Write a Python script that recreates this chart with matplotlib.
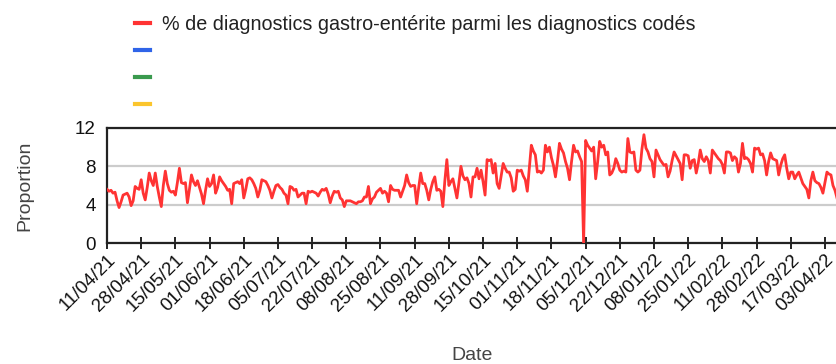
import matplotlib
matplotlib.use("Agg")
import matplotlib.pyplot as plt
from matplotlib.lines import Line2D
import pandas as pd

plt.rcParams['font.family'] = ['Liberation Sans', 'DejaVu Sans']

start_date = "2021-04-11"
series_label = "% de diagnostics gastro-entérite parmi les diagnostics codés"
proportion = [
    5.6, 5.4, 5.5, 5.2, 5.3, 4.4, 3.7,
    4.3, 5.0, 5.1, 5.2, 4.8, 3.9, 4.4,
    5.9, 5.7, 5.6, 6.6, 5.2, 4.5, 5.8,
    7.3, 6.5, 6.0, 7.3, 5.9, 4.8, 3.8,
    6.0, 7.5, 6.2, 5.5, 5.3, 5.4, 5.0,
    6.3, 7.8, 6.3, 6.2, 6.3, 4.2, 5.6,
    7.1, 6.4, 6.0, 6.5, 5.8, 5.1, 4.1,
    5.5, 6.7, 5.9, 6.2, 7.1, 5.2, 5.8,
    6.9, 6.5, 6.2, 5.9, 5.5, 5.6, 4.1,
    6.2, 6.3, 6.4, 6.2, 6.6, 4.7, 5.6,
    6.7, 6.8, 6.6, 6.2, 5.7, 4.8, 5.5,
    6.6, 6.5, 6.4, 6.0, 5.5, 4.7, 5.4,
    6.0, 6.1, 5.8, 5.6, 5.2, 5.0, 4.1,
    5.9, 5.8, 5.5, 5.6, 4.8, 5.0, 5.2,
    5.2, 4.1, 5.4, 5.3, 5.4, 5.3, 5.2,
    4.9, 5.3, 5.6, 5.5, 5.7, 5.1, 4.2,
    4.9, 5.4, 5.3, 5.4, 4.7, 4.5, 3.8,
    4.4, 4.4, 4.4, 4.3, 4.2, 4.1, 4.3,
    4.3, 4.4, 4.8, 4.8, 5.9, 4.1, 4.6,
    4.8, 5.3, 5.5, 5.7, 5.2, 5.4, 5.2,
    4.3, 6.0, 5.6, 5.5, 5.5, 5.5, 4.8,
    5.4, 6.0, 7.1, 6.3, 5.9, 6.0, 6.0,
    4.1, 5.8, 7.3, 6.2, 6.2, 5.5, 4.5,
    5.6, 6.4, 6.9, 5.5, 5.6, 5.4, 3.8,
    6.5, 8.7, 6.0, 6.4, 6.7, 5.7, 4.7,
    6.3, 8.0, 7.0, 6.6, 6.8, 6.2, 4.8,
    6.9, 6.9, 7.8, 6.7, 7.6, 6.4, 5.0,
    8.7, 8.6, 8.7, 7.3, 8.3, 6.2, 5.7,
    7.0, 8.3, 7.8, 7.4, 7.4, 6.8, 5.4,
    5.6, 7.6, 7.5, 7.6, 7.0, 6.6, 5.4,
    7.8, 10.2, 9.6, 9.2, 7.4, 7.5, 7.3,
    7.6, 10.2, 9.5, 10.0, 8.9, 8.1, 6.9,
    8.5, 10.4, 9.8, 9.4, 8.5, 7.8, 6.6,
    8.5, 10.2, 9.5, 9.6, 9.0, 8.5, 0.0,
    10.7, 10.2, 9.9, 9.6, 10.0, 6.7, 8.5,
    10.6, 10.0, 10.2, 9.2, 9.5, 7.1, 7.3,
    7.8, 8.8, 8.3, 7.6, 7.4, 7.5, 7.4,
    10.9, 9.5, 9.4, 9.5, 7.6, 7.4, 7.6,
    9.8, 11.3, 9.9, 9.5, 8.8, 8.5, 6.9,
    9.7, 9.2, 8.7, 8.4, 8.1, 8.2, 6.9,
    7.5, 8.6, 9.5, 9.1, 8.7, 8.3, 6.6,
    9.2, 9.2, 9.1, 7.8, 8.6, 8.7, 7.3,
    8.3, 9.7, 8.8, 8.5, 9.0, 8.6, 7.3,
    9.7, 9.4, 9.1, 8.8, 8.6, 8.2, 7.3,
    9.5, 9.5, 9.4, 8.6, 9.0, 8.8, 7.4,
    8.3, 10.4, 8.8, 8.9, 8.7, 8.3, 7.4,
    9.9, 9.8, 9.9, 9.2, 9.3, 8.6, 7.1,
    8.5, 9.4, 8.8, 8.7, 8.6, 7.1, 8.1,
    8.8, 9.2, 7.8, 6.7, 7.4, 7.4, 6.7,
    7.1, 7.4, 6.8, 6.2, 5.9, 5.6, 4.7,
    6.5, 7.4, 6.5, 6.3, 6.2, 5.8, 5.2,
    6.3, 7.4, 7.2, 7.1, 6.0, 5.5, 4.7,
]
tick_labels = ["11/04/21", "28/04/21", "15/05/21", "01/06/21", "18/06/21",
               "05/07/21", "22/07/21", "08/08/21", "25/08/21", "11/09/21",
               "28/09/21", "15/10/21", "01/11/21", "18/11/21", "05/12/21",
               "22/12/21", "08/01/22", "25/01/22", "11/02/22", "28/02/22",
               "17/03/22", "03/04/22"]
y_ticks = [0, 4, 8, 12]
legend_colors = ["#ff3333", "#2f64e8", "#3a9a4e", "#fbc52d"]
legend_labels = [series_label, "", "", ""]

dates = pd.date_range(start_date, periods=len(proportion), freq="D")
tick_dates = pd.to_datetime(tick_labels, format="%d/%m/%y")

fig = plt.figure(figsize=(8.37, 3.64), dpi=100)
ax = fig.add_axes([107 / 837, 1 - 243 / 364, 1 - 107 / 837, 115 / 364])

ax.plot(dates, proportion, color=legend_colors[0], lw=2.0, solid_joinstyle="round",
        zorder=3)

ax.set_xlim(dates[0], dates[-1])
ax.set_ylim(0, 12)
ax.set_yticks(y_ticks)
ax.set_yticklabels([str(v) for v in y_ticks])
ax.grid(axis="y", color="#cccccc", lw=1.6, zorder=0)
ax.set_axisbelow(True)

ax.set_xticks(tick_dates)
ax.set_xticklabels(tick_labels, rotation=45, ha="right", va="top",
                   rotation_mode="anchor")
ax.tick_params(axis="x", direction="inout", length=8, width=1.4, color="#222222",
               labelsize=13.5, labelcolor="#111111", pad=2)
ax.tick_params(axis="y", length=0, labelsize=13.5, labelcolor="#111111", pad=8)

for side in ("left", "top", "bottom"):
    ax.spines[side].set_color("#222222")
    ax.spines[side].set_linewidth(1.6)
ax.spines["right"].set_visible(False)

ax.set_ylabel("Proportion", fontsize=14, color="#444444", labelpad=30)
ax.set_xlabel("Date", fontsize=14, color="#444444", labelpad=23)

handles = [Line2D([], [], color=c, lw=3) for c in legend_colors]
fig.legend(handles, legend_labels, loc="upper left", bbox_to_anchor=(127 / 837, 1 - 7 / 364),
           frameon=False, fontsize=14.2, handlelength=0.75, handletextpad=0.62,
           labelspacing=0.41, labelcolor="#222222", borderaxespad=0)

fig.savefig("out.png", dpi=100)
